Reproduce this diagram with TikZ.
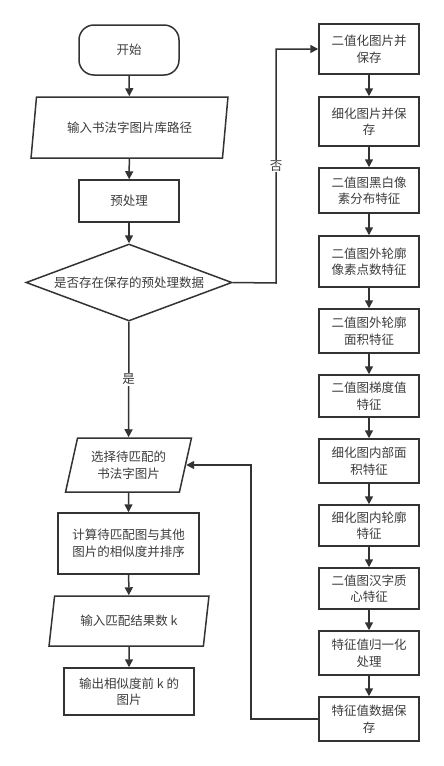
\documentclass[tikz,border=0pt]{standalone}
\usepackage{fontspec}
\setmainfont{Noto Sans CJK SC}
\usetikzlibrary{shapes.geometric,arrows.meta}
\definecolor{ln}{HTML}{333333}
\definecolor{tx}{HTML}{3C3C3C}
\tikzset{
  base/.style={draw=ln, line width=1.5pt, text=tx, font=\fontsize{12.5}{16.5}\selectfont, align=center, inner sep=0pt},
  boxr/.style={base, rectangle, minimum width=100pt},
  term/.style={base, rectangle, rounded corners=15pt, minimum width=100pt, minimum height=50pt},
  para/.style={base, trapezium, trapezium left angle=72.5, trapezium right angle=107.5, trapezium stretches=true},
  dia/.style={base, diamond, aspect=2.675, minimum width=206pt, minimum height=77pt},
  arr/.style={draw=ln, line width=1.5pt, -{Triangle[length=8pt,width=8pt]}},
  lab/.style={fill=white, text=tx, font=\fontsize{12.5}{16.5}\selectfont, inner sep=1pt}
}
\begin{document}
\begin{tikzpicture}[x=1pt,y=-1pt]
\useasboundingbox (0,0) rectangle (444,766);
% left column
\node[term] (start) at (129,50) {开始};
\node[para, minimum width=197pt, minimum height=61pt] (p1) at (129.5,127.5) {输入书法字图片库路径};
\node[boxr, minimum height=42pt] (pre) at (129,201) {预处理};
\node[dia] (d) at (129,282.5) {是否存在保存的预处理数据};
\node[para, minimum width=127pt, minimum height=54pt] (p2) at (128.5,465) {选择待匹配的\\书法字图片};
\node[boxr, minimum width=141pt, minimum height=61pt] (calc) at (128.5,543.5) {计算待匹配图与其他\\图片的相似度并排序};
\node[para, minimum width=160pt, minimum height=50pt] (p3) at (129,621) {输入匹配结果数 k};
\node[boxr, minimum width=130pt, minimum height=47pt] (out) at (129,691.5) {输出相似度前 k 的\\图片};
% right column
\node[boxr, minimum height=50pt] (b1) at (369,49) {二值化图片并\\保存};
\node[boxr, minimum height=49pt] (b2) at (369,121.5) {细化图片并保\\存};
\node[boxr, minimum height=45pt] (b3) at (369,190.5) {二值图黑白像\\素分布特征};
\node[boxr, minimum height=51pt] (b4) at (369,261.5) {二值图外轮廓\\像素点数特征};
\node[boxr, minimum height=44pt] (b5) at (369,331) {二值图外轮廓\\面积特征};
\node[boxr, minimum height=42pt] (b6) at (369,396) {二值图梯度值\\特征};
\node[boxr, minimum height=44pt] (b7) at (369,461) {细化图内部面\\积特征};
\node[boxr, minimum height=41pt] (b8) at (369,525.5) {细化图内轮廓\\特征};
\node[boxr, minimum height=41pt] (b9) at (369,588.5) {二值图汉字质\\心特征};
\node[boxr, minimum height=44pt] (b10) at (369,653) {特征值归一化\\处理};
\node[boxr, minimum height=44pt] (b11) at (369,719) {特征值数据保\\存};
\coordinate (cno) at (276,283);
\coordinate (cback) at (251,719);
% connectors
\draw[arr] (start) -- (p1);
\draw[arr] (p1) -- (pre);
\draw[arr] (pre) -- (d);
\draw[arr] (d) -- node[lab, pos=0.5] {是} (p2);
\draw[arr] (p2) -- (calc);
\draw[arr] (calc) -- (p3);
\draw[arr] (p3) -- (out);
\draw[arr] (d.east) -- (cno) |- node[lab, pos=0.25] {否} (b1.west);
\draw[arr] (b1) -- (b2);
\draw[arr] (b2) -- (b3);
\draw[arr] (b3) -- (b4);
\draw[arr] (b4) -- (b5);
\draw[arr] (b5) -- (b6);
\draw[arr] (b6) -- (b7);
\draw[arr] (b7) -- (b8);
\draw[arr] (b8) -- (b9);
\draw[arr] (b9) -- (b10);
\draw[arr] (b10) -- (b11);
\draw[arr] (b11.west) -- (cback) |- (p2);
\end{tikzpicture}
\end{document}
